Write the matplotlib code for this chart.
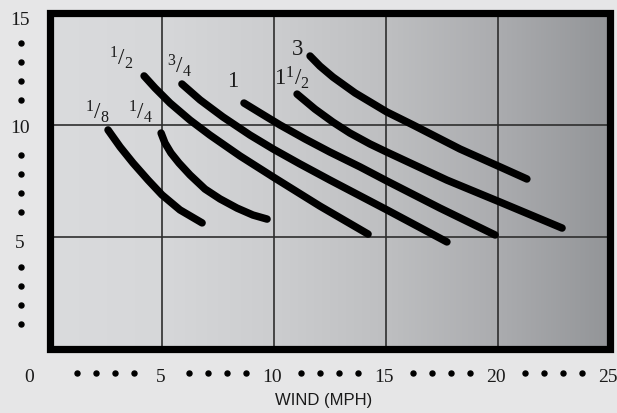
import numpy as np
import matplotlib
matplotlib.use("Agg")
import matplotlib.pyplot as plt
from matplotlib.colors import LinearSegmentedColormap
from matplotlib.patches import Rectangle

# ---------------- data ----------------
size_labels = [r"$^1/_8$", r"$^1/_4$", r"$^1/_2$", r"$^3/_4$", "1", r"$1^1/_2$", "3"]

wind_18 = [2.59, 3.13, 3.71, 4.38, 5.00, 5.80, 6.79]
val_18 = [9.78, 9.02, 8.30, 7.54, 6.88, 6.21, 5.63]

wind_14 = [4.96, 5.13, 5.40, 5.76, 6.25, 6.92, 7.59, 8.35, 9.06, 9.69]
val_14 = [9.64, 9.20, 8.75, 8.30, 7.77, 7.14, 6.70, 6.29, 5.98, 5.80]

wind_12 = [4.20, 4.69, 5.36, 6.25, 7.14, 8.48, 9.96, 12.05, 14.20]
val_12 = [12.19, 11.65, 10.98, 10.22, 9.55, 8.62, 7.68, 6.38, 5.13]

wind_34 = [5.89, 6.70, 7.72, 8.93, 9.96, 11.16, 12.50, 15.04, 17.72]
val_34 = [11.83, 11.12, 10.36, 9.55, 8.93, 8.26, 7.54, 6.21, 4.78]

wind_1 = [8.66, 9.38, 10.27, 11.38, 12.50, 13.84, 15.04, 17.41, 19.87]
val_1 = [10.98, 10.54, 10.00, 9.38, 8.79, 8.13, 7.50, 6.29, 5.09]

wind_112 = [11.03, 11.83, 12.63, 13.39, 14.29, 15.04, 17.72, 20.09, 22.86]
val_112 = [11.38, 10.71, 10.13, 9.64, 9.15, 8.79, 7.54, 6.56, 5.40]

wind_3 = [11.61, 12.05, 12.63, 13.62, 15.04, 16.21, 18.30, 20.09, 21.29]
val_3 = [13.08, 12.63, 12.14, 11.43, 10.58, 10.00, 8.93, 8.13, 7.59]

curves_x = [wind_18, wind_14, wind_12, wind_34, wind_1, wind_112, wind_3]
curves_y = [val_18, val_14, val_12, val_34, val_1, val_112, val_3]

# label anchor positions (data coords)
label_x = [2.10, 4.06, 3.17, 5.76, 8.17, 10.80, 11.03]
label_y = [10.58, 10.58, 12.99, 12.63, 11.96, 12.10, 13.35]

x_tick_vals = [0, 5, 10, 15, 20, 25]
x_tick_labels = ["0", "5", "10", "15", "20", "25"]
y_tick_vals = [5, 10, 15]
y_tick_labels = ["5", "10", "15"]
x_dot_offsets = [1.2, 2.05, 2.9, 3.75]
y_dot_offsets = [1.1, 1.95, 2.8, 3.65]
x_label = "WIND (MPH)"

# ---------------- style ----------------
plt.rcParams["mathtext.fontset"] = "custom"
plt.rcParams["mathtext.rm"] = "Liberation Serif"
plt.rcParams["mathtext.it"] = "Liberation Serif:italic"
plt.rcParams["mathtext.bf"] = "Liberation Serif:bold"

W, H = 617, 413
fig = plt.figure(figsize=(W / 100, H / 100), dpi=100)
fig.patch.set_facecolor("#e6e6e7")

L, R, T, B = 50, 610, 13, 349
ax = fig.add_axes([L / W, 1 - B / H, (R - L) / W, (B - T) / H])
ax.set_xlim(0, 25)
ax.set_ylim(0, 15)

# gradient background
cmap = LinearSegmentedColormap.from_list(
    "bg",
    [(0.0, "#dadbdd"), (0.2, "#d6d7d9"), (0.4, "#cccdcf"),
     (0.6, "#bebfc1"), (0.8, "#abacaf"), (1.0, "#939598")])
grad = np.linspace(0, 1, 256).reshape(1, -1)
ax.imshow(grad, extent=(0, 25, 0, 15), aspect="auto", cmap=cmap,
          zorder=-2, interpolation="bicubic")

# grid
for gx in [5, 10, 15, 20]:
    ax.axvline(gx, color="#2e2e2e", lw=1.2, zorder=1)
for gy in [5, 10]:
    ax.axhline(gy, color="#2e2e2e", lw=1.2, zorder=1)

ax.set_xticks([])
ax.set_yticks([])
for s in ax.spines.values():
    s.set_visible(False)

# thick frame
ax.add_patch(Rectangle((0, 0), 1, 1, transform=ax.transAxes, fill=False,
                       ec="black", lw=5.2, joinstyle="miter", clip_on=False,
                       zorder=5))

# curves
for cx, cy in zip(curves_x, curves_y):
    ax.plot(cx, cy, color="black", lw=5.4, solid_capstyle="round",
            solid_joinstyle="round", zorder=3)

# curve labels
for lab, lx, ly in zip(size_labels, label_x, label_y):
    ax.text(lx, ly, lab, fontsize=16.5, family="Liberation Serif",
            color="#1a1a1a", ha="center", va="center", zorder=4)

# x tick labels & dots
xt_y = -1.47
for v, lab in zip(x_tick_vals, x_tick_labels):
    xpos = -0.94 if v == 0 else v - 0.08
    ax.text(xpos, xt_y, lab, fontsize=14, family="Liberation Serif",
            color="#1a1a1a", ha="center", va="baseline", clip_on=False)
xdots = [b + o for b in x_tick_vals[:-1] for o in x_dot_offsets]
ax.plot(xdots, [-1.07] * len(xdots), "o", color="black", ms=3.6,
        clip_on=False, zorder=6)

# y tick labels & dots
yt_x = -1.34
y_base = {5: 4.51, 10: 9.64, 15: 14.46}
for v, lab in zip(y_tick_vals, y_tick_labels):
    ax.text(yt_x, y_base[v], lab, fontsize=14, family="Liberation Serif",
            color="#1a1a1a", ha="center", va="baseline", clip_on=False)
ydots = [b + o for b in [0, 5, 10] for o in y_dot_offsets]
ax.plot([-1.29] * len(ydots), ydots, "o", color="black", ms=3.6,
        clip_on=False, zorder=6)

fig.text(324 / W, 1 - 401 / H, x_label, fontsize=12, family="Liberation Sans",
         color="#1a1a1a", ha="center", va="center")

fig.savefig("out.png", dpi=100, facecolor=fig.get_facecolor())
